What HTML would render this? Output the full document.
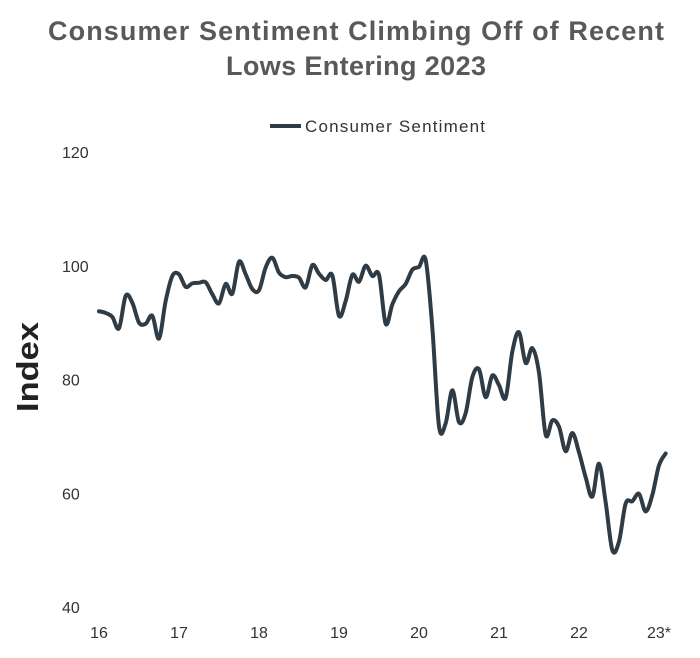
<!DOCTYPE html>
<html><head><meta charset="utf-8"><style>
body{margin:0;background:#fff;font-family:"Liberation Sans",sans-serif;}
#wrap{position:relative;width:700px;height:658px;overflow:hidden}
</style></head><body>
<div id="wrap">
<svg id="svg" width="700" height="658" xmlns="http://www.w3.org/2000/svg">
<text x="356" y="40" text-anchor="middle" font-size="27" font-weight="bold" fill="#595959" font-family="Liberation Sans, sans-serif" textLength="616" lengthAdjust="spacing">Consumer Sentiment Climbing Off of Recent</text>
<text x="356" y="75" text-anchor="middle" font-size="27" font-weight="bold" fill="#595959" font-family="Liberation Sans, sans-serif" textLength="260" lengthAdjust="spacing">Lows Entering 2023</text>
<g>
<line x1="270" y1="126" x2="301" y2="126" stroke="#2f3b45" stroke-width="4"/>
<text x="305" y="132" font-size="17" fill="#333" font-family="Liberation Sans, sans-serif" textLength="180" lengthAdjust="spacing">Consumer Sentiment</text>
</g>
<text transform="translate(38,367) rotate(-90)" text-anchor="middle" font-size="31" font-weight="bold" fill="#222" font-family="Liberation Sans, sans-serif" textLength="90" lengthAdjust="spacingAndGlyphs">Index</text>
<g id="yt"></g><g id="xt"></g>
<path id="line" fill="none" stroke="#2f3b45" stroke-width="4" stroke-linejoin="round" stroke-linecap="round"/>
</svg>
</div>
<script>
const yTicks=[40,60,80,100,120];
const xLabels=["16","17","18","19","20","21","22","23*"];
const sentiment=[92.0,91.7,91.0,89.0,94.7,93.5,90.0,89.8,91.2,87.2,93.8,98.2,
98.5,96.3,96.9,97.0,97.1,95.0,93.4,96.8,95.1,100.7,98.5,95.9,
95.7,99.7,101.4,98.8,98.0,98.2,97.9,96.2,100.1,98.6,97.5,98.3,
91.2,93.8,98.4,97.2,100.0,98.2,98.4,89.8,93.2,95.5,96.8,99.3,
99.8,101.0,89.1,71.8,72.3,78.1,72.5,74.1,80.4,81.8,76.9,80.7,
79.0,76.8,84.9,88.3,82.9,85.5,81.2,70.3,72.8,71.7,67.4,70.6,
67.2,62.8,59.4,65.2,58.4,50.0,51.5,58.2,58.6,59.9,56.8,59.7,
64.9,67.0];
const X=i=>99+i*(80/12);
const Y=v=>607-(v-40)*(455/80);
const NS="http://www.w3.org/2000/svg";
const yt=document.getElementById('yt'),xt=document.getElementById('xt');
yTicks.forEach(v=>{const t=document.createElementNS(NS,'text');
t.setAttribute('x',62);t.setAttribute('y',Y(v)+6);t.setAttribute('font-size','16');t.setAttribute('fill','#333');t.setAttribute('font-family','Liberation Sans, sans-serif');t.textContent=v;


yt.appendChild(t);});
xLabels.forEach((l,i)=>{const t=document.createElementNS(NS,'text');
t.setAttribute('x',X(i*12));t.setAttribute('y',638);t.setAttribute('text-anchor','middle');t.setAttribute('font-size','16');t.setAttribute('fill','#333');t.setAttribute('font-family','Liberation Sans, sans-serif');t.textContent=l;


xt.appendChild(t);});
const p=sentiment.map((v,i)=>[X(i),Y(v)]);
let d='M'+p[0][0]+','+p[0][1];
for(let i=0;i<p.length-1;i++){const p0=p[Math.max(0,i-1)],p1=p[i],p2=p[i+1],p3=p[Math.min(p.length-1,i+2)];
const c1=[p1[0]+(p2[0]-p0[0])/6,p1[1]+(p2[1]-p0[1])/6],c2=[p2[0]-(p3[0]-p1[0])/6,p2[1]-(p3[1]-p1[1])/6];
d+=' C'+c1+' '+c2+' '+p2;}
document.getElementById('line').setAttribute('d',d);
</script>
</body></html>
